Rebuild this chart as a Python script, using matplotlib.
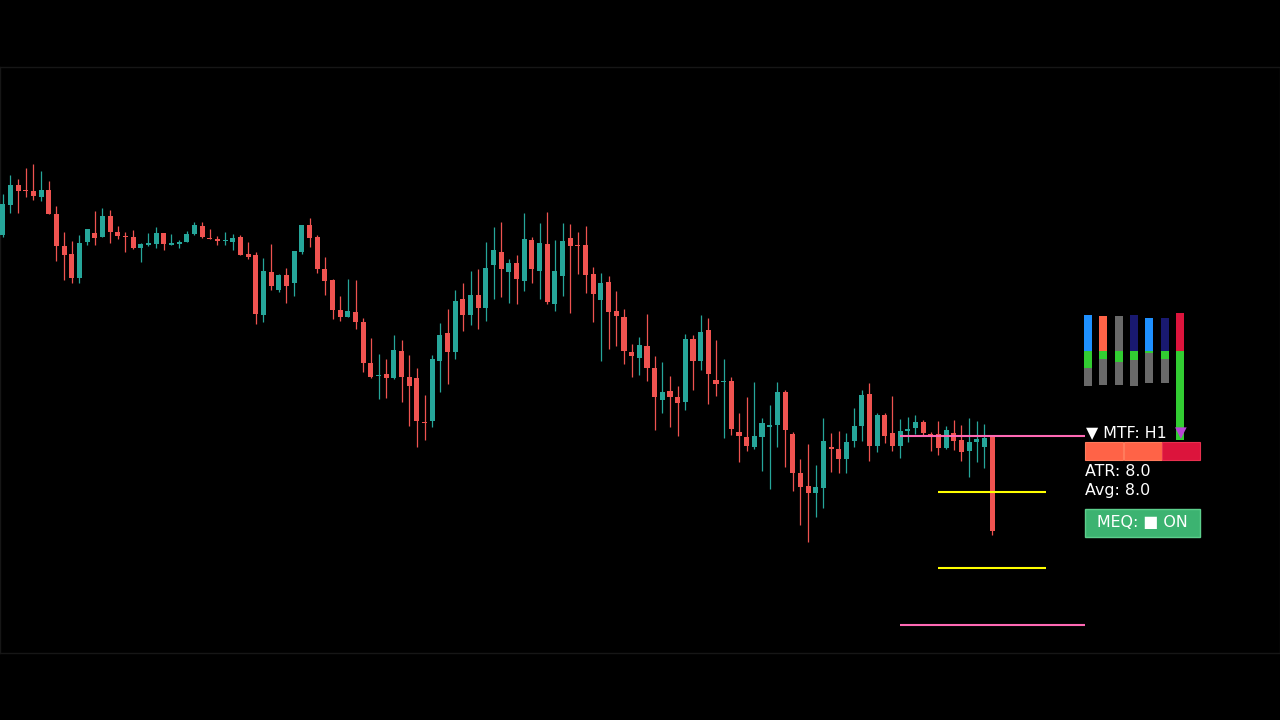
import matplotlib
matplotlib.use("Agg")
import matplotlib.pyplot as plt
from matplotlib.patches import Rectangle

# candle data (open, high, low, close)
opens = [485, 515, 535, 530, 529, 523, 530, 506, 474, 466, 442, 478, 487, 483, 504, 488, 484, 483, 472, 475,
         476, 487, 475, 476, 478, 486, 494, 482, 481, 479, 478, 483, 466, 465, 405, 448, 430, 445, 437, 468,
         495, 483, 451, 440, 410, 403, 408, 398, 357, 344, 346, 342, 369, 343, 342, 298, 299, 359, 387, 368,
         421, 405, 425, 412, 455, 468, 448, 457, 439, 480, 449, 476, 416, 444, 482, 475, 475, 446, 420, 438,
         409, 403, 368, 362, 374, 352, 320, 329, 323, 318, 381, 359, 390, 340, 338, 339, 288, 283, 273, 283,
         293, 295, 328, 286, 247, 234, 227, 232, 273, 271, 261, 279, 294, 326, 274, 305, 287, 274, 289, 292,
         298, 286, 286, 272, 287, 280, 269, 278, 273, 283]
highs = [526, 545, 541, 552, 556, 549, 539, 514, 488, 479, 485, 491, 509, 512, 510, 494, 488, 490, 477, 487,
         493, 487, 486, 480, 489, 498, 498, 491, 484, 488, 486, 485, 478, 468, 462, 476, 446, 452, 469, 495,
         502, 485, 463, 441, 424, 441, 440, 402, 382, 366, 361, 385, 380, 365, 352, 325, 365, 397, 411, 430,
         437, 449, 451, 478, 493, 498, 461, 465, 507, 483, 497, 508, 480, 497, 496, 488, 494, 453, 447, 444,
         429, 411, 376, 383, 406, 364, 358, 344, 334, 386, 385, 405, 402, 380, 361, 343, 307, 323, 338, 302,
         315, 338, 330, 288, 261, 276, 255, 302, 287, 289, 287, 312, 330, 337, 307, 307, 324, 301, 303, 305,
         300, 288, 299, 294, 300, 295, 302, 299, 296, 283]
lows = [483, 507, 507, 523, 520, 519, 506, 459, 440, 437, 437, 475, 475, 483, 477, 481, 468, 471, 458, 474,
        472, 470, 475, 472, 478, 485, 482, 481, 475, 475, 470, 465, 461, 396, 398, 430, 428, 417, 424, 466,
        473, 447, 425, 401, 399, 403, 391, 348, 342, 321, 322, 341, 318, 294, 273, 280, 293, 328, 336, 361,
        389, 395, 391, 399, 421, 423, 417, 416, 429, 437, 421, 416, 409, 424, 407, 446, 427, 398, 359, 371,
        374, 356, 343, 345, 339, 290, 307, 293, 284, 310, 330, 350, 316, 324, 282, 285, 258, 269, 271, 249,
        231, 273, 253, 229, 195, 178, 203, 212, 248, 247, 247, 273, 279, 259, 268, 277, 269, 262, 278, 286,
        285, 269, 265, 271, 270, 259, 243, 258, 252, 185]
closes = [516, 535, 529, 529, 524, 530, 506, 474, 465, 442, 477, 491, 482, 504, 488, 484, 483, 472, 476, 477,
          487, 476, 477, 478, 486, 495, 483, 481, 479, 480, 482, 465, 463, 406, 449, 434, 445, 434, 469, 495,
          482, 451, 439, 410, 403, 409, 398, 357, 343, 345, 342, 370, 343, 334, 299, 297, 361, 385, 368, 419,
          405, 425, 412, 452, 470, 451, 457, 441, 481, 451, 477, 418, 449, 479, 474, 474, 445, 426, 437, 408,
          404, 369, 364, 375, 352, 323, 328, 323, 317, 381, 359, 388, 346, 336, 339, 291, 284, 274, 284, 297,
          295, 328, 290, 247, 233, 227, 233, 279, 271, 261, 278, 294, 325, 274, 305, 284, 274, 289, 291, 298,
          287, 284, 272, 290, 279, 268, 278, 281, 282, 189]

# level lines: (price, start candle, end candle, color)
level_prices = [284, 228, 152, 95]
level_start = [117.0, 121.9, 121.9, 117.0]
level_end = [141.1, 136.0, 136.0, 141.1]
level_colors = ['#ff69b4', '#ffff00', '#ffff00', '#ff69b4']

# MTF strength bars (top colour, top, green end, bottom)
mtf_colors = ['#1e90ff', '#ff6347', '#696969', '#191970', '#1e90ff', '#191970']
mtf_tops = [315, 316, 316, 315, 318, 318]
mtf_green_end = [368, 359, 362, 360, 353, 359]
mtf_bottoms = [386, 385, 385, 386, 383, 383]

atr_value = 8.0
avg_value = 8.0
tf_label = "H1"

BULL = '#26a69a'
BEAR = '#ef5350'

fig = plt.figure(figsize=(12.8, 7.2), dpi=100)
fig.patch.set_facecolor('black')

# main chart panel
ax = fig.add_axes([0, 67 / 720, 1, 586 / 720])
ax.set_facecolor('black')
px0, step = 2.7, 7.67
ax.set_xlim(-px0 / step, (1280 - px0) / step)
ax.set_ylim(67, 653)
ax.set_xticks([])
ax.set_yticks([])
for s in ax.spines.values():
    s.set_color('#161616')
    s.set_linewidth(1)

for i in range(len(opens)):
    o, h, l, c = opens[i], highs[i], lows[i], closes[i]
    color = BULL if c >= o else BEAR
    ax.vlines(i, l, h, color=color, linewidth=0.9, zorder=2)
    bottom = min(o, c)
    height = max(abs(c - o), 1.2)
    ax.bar(i, height, bottom=bottom, width=0.66, color=color, linewidth=0, zorder=3)

for p, x0, x1, col in zip(level_prices, level_start, level_end, level_colors):
    ax.hlines(p, x0, x1, color=col, linewidth=1.5, zorder=4)

# overlay widgets in pixel coordinates
ov = fig.add_axes([0, 0, 1, 1])
ov.set_xlim(0, 1280)
ov.set_ylim(720, 0)
ov.axis('off')
ov.patch.set_alpha(0)

bar_x = [1084, 1099.3, 1114.7, 1130, 1145.3, 1160.7]
for x, col, top, gend, bot in zip(bar_x, mtf_colors, mtf_tops, mtf_green_end, mtf_bottoms):
    ov.add_patch(Rectangle((x, top), 8, 351 - top, color=col, linewidth=0))
    ov.add_patch(Rectangle((x, 351), 8, gend - 351, color='#32cd32', linewidth=0))
    ov.add_patch(Rectangle((x, gend), 8, bot - gend, color='#696969', linewidth=0))

ov.add_patch(Rectangle((1176, 313), 8, 38, color='#dc143c', linewidth=0))
ov.add_patch(Rectangle((1176, 351), 8, 89, color='#32cd32', linewidth=0))

ov.text(1086, 433, "▼ MTF: " + tf_label, color='white', fontsize=11.4, va='center', ha='left')
ov.text(1181, 433, "▼", color='#b845d6', fontsize=11, va='center', ha='center')

seg_x = [1085, 1123.5, 1162]
seg_col = ['#ff6347', '#ff6347', '#dc143c']
for x, col in zip(seg_x, seg_col):
    ov.add_patch(Rectangle((x, 442), 38.3, 18, facecolor=col, edgecolor='#ff7b5c' if col == '#ff6347' else '#e8304f',
                           linewidth=0.8))

ov.text(1085, 471, "ATR: %.1f" % atr_value, color='white', fontsize=11.4, va='center', ha='left')
ov.text(1085, 490, "Avg: %.1f" % avg_value, color='white', fontsize=11.4, va='center', ha='left')

ov.add_patch(Rectangle((1085, 508.5), 114.5, 28, facecolor='#3cb371', edgecolor='#5ccf8c', linewidth=1))
ov.text(1142.5, 522.5, "MEQ: ■ ON", color='white', fontsize=11.4, va='center', ha='center')

fig.savefig("out.png", dpi=100, facecolor='black')
